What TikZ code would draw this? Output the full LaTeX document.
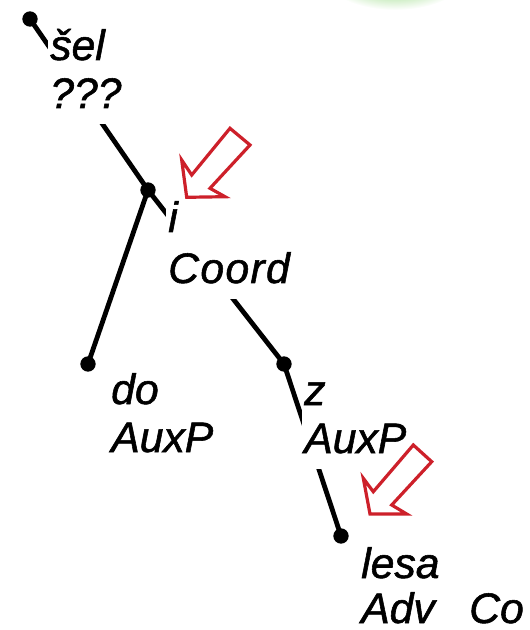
\documentclass[tikz,border=0pt]{standalone}
\usepackage{fontspec}
\setmainfont{Liberation Sans}
\newfontfamily\lblfont[FakeBold=1.3]{Liberation Sans}
\definecolor{arrowred}{RGB}{205,32,42}
\definecolor{blobgreen}{RGB}{100,200,70}
\begin{document}
\begin{tikzpicture}[x=0.75pt,y=-0.75pt,
  edge/.style={line width=3.6pt},
  dot/.style={circle,fill=black,inner sep=0pt,minimum size=11.5pt},
  lbl/.style={anchor=base west,fill=white,inner sep=1.5pt,font=\fontsize{32}{36}\lblfont\itshape},
  redarrow/.style={draw=arrowred,line width=2.4pt,fill=white,line join=miter}]
\useasboundingbox (0,0) rectangle (529,630);
% green blob at top
\shade[inner color=blobgreen, outer color=white] (395,-26) ellipse [x radius=72, y radius=36];
% tree nodes
\node[dot] (sel) at (30,19) {};
\node[dot] (i) at (148,190) {};
\node[dot] (do) at (88,364) {};
\node[dot] (z) at (284,364) {};
\node[dot] (lesa) at (341,536) {};
% edges
\draw[edge] (sel.center) -- (i.center);
\draw[edge] (i.center) -- (do.center);
\draw[edge] (i.center) -- (z.center);
\draw[edge] (z.center) -- (lesa.center);
% labels
\node[lbl] (lsel) at (48,60) {\begin{tabular}[t]{@{}l@{}}šel\\???\end{tabular}};
\node[lbl] (li) at (166,232) {\begin{tabular}[t]{@{}l@{}}i\\[2.25pt]C\kern1pt o\kern1pt o\kern1pt r\kern1pt d\end{tabular}};
\node[lbl] (ldo) at (109,404) {\begin{tabular}[t]{@{}l@{}}do\\AuxP\end{tabular}};
\node[lbl] (lz) at (302,405) {\begin{tabular}[t]{@{}l@{}}z\\AuxP\end{tabular}};
\node[lbl] (llesa) at (359,578) {\begin{tabular}[t]{@{}l@{}}lesa\\[-2.25pt]Adv\end{tabular}};
\node[lbl] (lco) at (467,623) {Co};
% red hollow arrows
\draw[redarrow] (186.7,197.3) -- (181.7,160) -- (191.7,175) -- (230,128.3) -- (250,145) -- (210,188.3) -- (225,196.7) -- cycle;
\draw[redarrow] (370,514) -- (363.3,478.3) -- (373.3,491.7) -- (413.3,445) -- (431.7,461.7) -- (391.7,505) -- (406.7,514) -- cycle;
\end{tikzpicture}
\end{document}
